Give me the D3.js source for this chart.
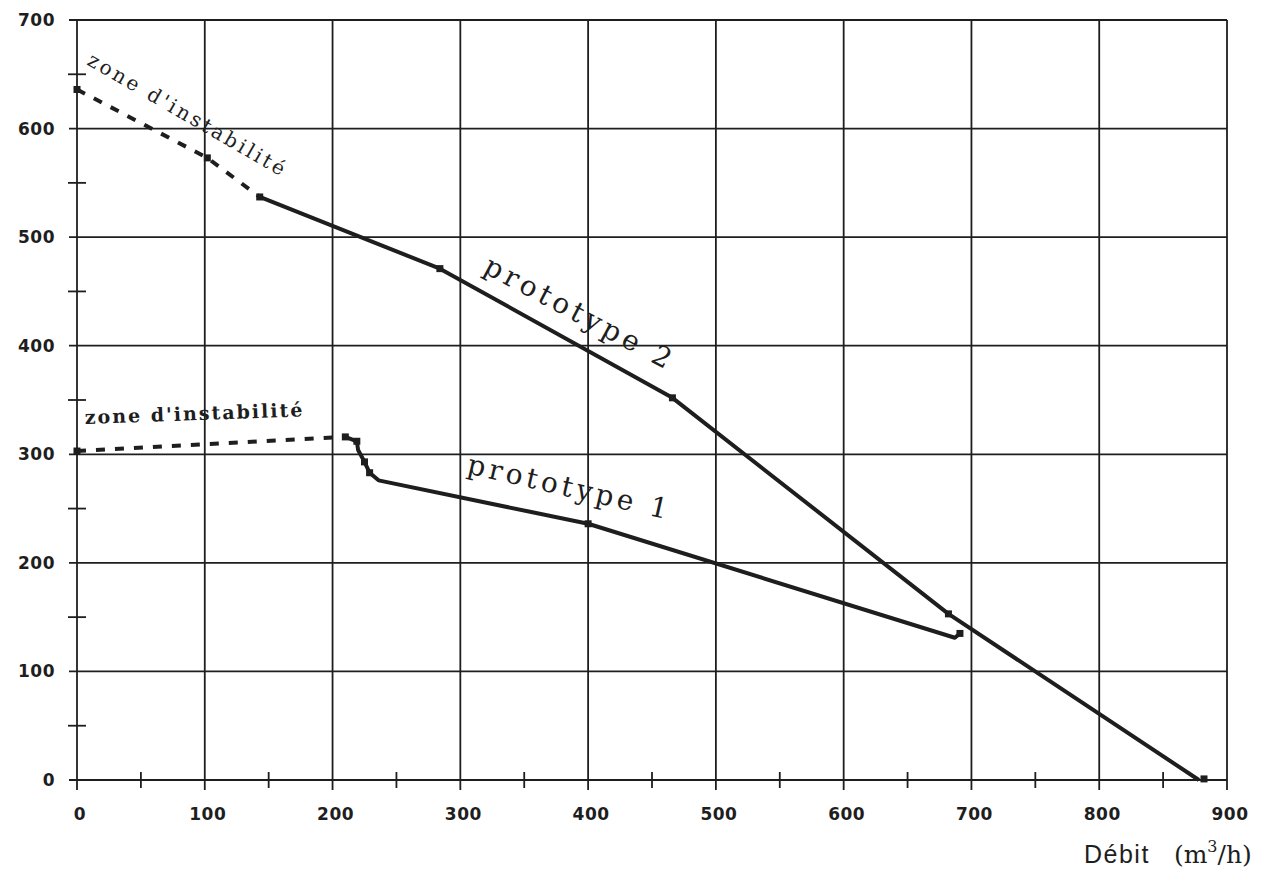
<!DOCTYPE html>
<html><head><meta charset="utf-8">
<script src="https://cdn.jsdelivr.net/npm/d3@7"></script>
<style>body{margin:0;background:#fff}</style>
</head><body>
<svg id="c" width="1277" height="887"></svg>
<script>
// Data (Débit m3/h vs value)
const xTicks = [0,100,200,300,400,500,600,700,800,900];
const yTicks = [0,100,200,300,400,500,600,700];
const xMinor = [50,150,250,350,450,550,650,750,850];
const yMinor = [50,150,250,350,450,550,650];

const p2Dashed = [[0,636],[102,573],[143,537]];
const p2Solid  = [[143,537],[284,471],[466,352],[682,153],[878,0]];
const p2Marks  = [[0,636],[102,573],[143,537],[284,471],[466,352],[682,153],[882,1]];

const p1Dashed = [[0,303],[210,316]];
const p1Solid  = [[210,316],[219,312],[220,304],[225,293],[229,283],[236,276],[400,236],[687,131],[691,135]];
const p1Marks  = [[0,303],[210,316],[219,312],[225,293],[229,283],[400,236],[691,135]];

const svg = d3.select("#c");
const L=77,R=1227,T=20,B=780;
const x = d3.scaleLinear().domain([0,900]).range([L,R]);
const y = d3.scaleLinear().domain([0,700]).range([B,T]);
const ink="#1e1e1e";

const g = svg.append("g");
g.selectAll(".vg").data(xTicks).join("line")
  .attr("x1",d=>x(d)).attr("x2",d=>x(d)).attr("y1",T).attr("y2",B+10)
  .attr("stroke",ink).attr("stroke-width",1.8);
g.selectAll(".hg").data(yTicks).join("line")
  .attr("x1",L-8).attr("x2",R).attr("y1",d=>y(d)).attr("y2",d=>y(d))
  .attr("stroke",ink).attr("stroke-width",1.8);
g.selectAll(".xm").data(xMinor).join("line")
  .attr("x1",d=>x(d)).attr("x2",d=>x(d)).attr("y1",B-8).attr("y2",B+8)
  .attr("stroke",ink).attr("stroke-width",1.8);
g.selectAll(".ym").data(yMinor).join("line")
  .attr("x1",L-9).attr("x2",L+9).attr("y1",d=>y(d)).attr("y2",d=>y(d))
  .attr("stroke",ink).attr("stroke-width",1.8);

const lblFont="'DejaVu Sans', 'Liberation Sans', sans-serif";
g.selectAll(".xl").data(xTicks).join("text")
  .attr("x",d=>x(d)+3).attr("y",B+40).attr("text-anchor","middle")
  .attr("font-family",lblFont).attr("font-size",17).attr("font-weight","bold")
  .attr("letter-spacing",0.5).attr("fill",ink)
  .text(d=>d);
g.selectAll(".yl").data(yTicks).join("text")
  .attr("x",L-22).attr("y",d=>y(d)+6).attr("text-anchor","end")
  .attr("font-family",lblFont).attr("font-size",17).attr("font-weight","bold")
  .attr("letter-spacing",0.5).attr("fill",ink)
  .text(d=>d);

const at = svg.append("text").attr("x",1084).attr("y",863)
  .attr("font-family","'Liberation Sans', Arial, sans-serif").attr("font-size",25).attr("fill",ink);
at.append("tspan").attr("letter-spacing",1.5).text("Débit");
at.append("tspan").attr("dx",24).attr("font-family","'DejaVu Serif', serif").text("(m");
at.append("tspan").attr("dy",-11).attr("font-size",16).attr("font-family","'DejaVu Serif', serif").text("3");
at.append("tspan").attr("dy",11).attr("font-family","'DejaVu Serif', serif").text("/h)");

const line = d3.line().x(d=>x(d[0])).y(d=>y(d[1]));
function draw(dashed, solid, marks){
  svg.append("path").attr("d",line(dashed)).attr("fill","none").attr("stroke",ink)
    .attr("stroke-width",4).attr("stroke-dasharray","9,10");
  svg.append("path").attr("d",line(solid)).attr("fill","none").attr("stroke",ink)
    .attr("stroke-width",4).attr("stroke-linejoin","round");
  svg.append("g").selectAll("rect").data(marks).join("rect")
    .attr("x",d=>x(d[0])-3.5).attr("y",d=>y(d[1])-3.5).attr("width",7).attr("height",7)
    .attr("fill",ink);
}
draw(p2Dashed,p2Solid,p2Marks);
draw(p1Dashed,p1Solid,p1Marks);

const serif="'DejaVu Serif', 'Liberation Serif', serif";
svg.append("text").attr("transform","translate(86,64) rotate(30)")
  .attr("font-family",serif).attr("font-size",20).attr("letter-spacing",3).attr("fill",ink).text("zone d'instabilité");
svg.append("text").attr("transform","translate(85,424) rotate(-2)")
  .attr("font-family",serif).attr("font-size",19).attr("font-weight","bold").attr("letter-spacing",2).attr("fill",ink).text("zone d'instabilité");
svg.append("text").attr("transform","translate(482,272) rotate(28)")
  .attr("font-family",serif).attr("font-size",28).attr("letter-spacing",4.3).attr("fill",ink).text("prototype 2");
svg.append("text").attr("transform","translate(466,473) rotate(13)")
  .attr("font-family",serif).attr("font-size",28).attr("letter-spacing",4).attr("fill",ink).text("prototype 1");
</script>
</body></html>
